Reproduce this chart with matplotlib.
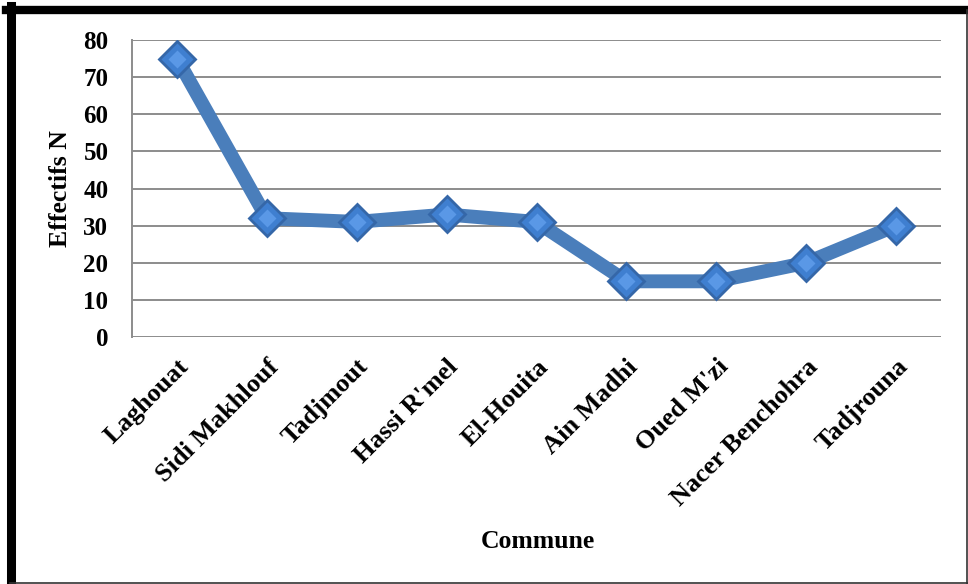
import matplotlib
matplotlib.use("Agg")
import matplotlib.pyplot as plt
from matplotlib.lines import Line2D
from matplotlib.transforms import ScaledTranslation

communes = ["Laghouat", "Sidi Makhlouf", "Tadjmout", "Hassi R'mel", "El-Houita",
            "Ain Madhi", "Oued M'zi", "Nacer Benchohra", "Tadjrouna"]
effectifs = [75, 32, 31, 33, 31, 15, 15, 20, 30]
yticks = [0, 10, 20, 30, 40, 50, 60, 70, 80]

plt.rcParams['font.family'] = ['Liberation Serif', 'DejaVu Serif']
plt.rcParams['font.weight'] = 'bold'

W, H = 968, 584
fig = plt.figure(figsize=(W / 100, H / 100), dpi=100)
fig.patch.set_facecolor('white')

ax = fig.add_axes([132 / W, 1 - 337 / H, (941 - 132) / W, (337 - 40) / H])
x = list(range(len(communes)))

ax.plot(x, effectifs, color='#4a7ebb', lw=10, solid_joinstyle='round',
        solid_capstyle='round', zorder=3)
# diamond markers: dark rim, blue face, light centre
ax.plot(x, effectifs, ls='none', marker='D', ms=20, mfc='#3567a8',
        mec='none', zorder=4)
ax.plot(x, effectifs, ls='none', marker='D', ms=16, mfc='#3f7fd0',
        mec='none', zorder=5)
ax.plot(x, effectifs, ls='none', marker='D', ms=9, mfc='#5a98e6',
        mec='none', zorder=6)

ax.set_xlim(-0.5, len(communes) - 0.5)
ax.set_ylim(0, 80)
ax.set_yticks(yticks)
ax.set_yticklabels([str(v) for v in yticks], fontsize=18, fontweight='bold')
ax.set_xticks(x)
ax.set_xticklabels(communes, rotation=45, ha='right', rotation_mode='anchor',
                   fontsize=19, fontweight='bold')
shift = ScaledTranslation(5 / 100, 0, fig.dpi_scale_trans)
for lab in ax.get_xticklabels():
    lab.set_transform(lab.get_transform() + shift)
ax.tick_params(axis='both', length=0)
ax.tick_params(axis='y', pad=17)
ax.tick_params(axis='x', pad=13)

ax.grid(axis='y', color='#8c8c8c', lw=1.4)
ax.set_axisbelow(True)
for s in ['top', 'right', 'bottom']:
    ax.spines[s].set_visible(False)
ax.spines['left'].set_color('#8c8c8c')
ax.spines['left'].set_linewidth(1.4)

ax.set_ylabel('Effectifs N', fontsize=18.5, fontweight='bold')
ax.yaxis.set_label_coords(-0.074, 0.5)
fig.text(538 / W, 1 - 541 / H, 'Commune', ha='center', va='center',
         fontsize=18.5, fontweight='bold')

# frame around the whole chart
def fx(px):
    return px / W

def fy(py):
    return 1 - py / H

fig.add_artist(Line2D([fx(6), fx(W)], [fy(10), fy(10)], color='black', lw=6))
fig.add_artist(Line2D([fx(10.5), fx(10.5)], [fy(6), fy(H)], color='black', lw=6.5))
fig.add_artist(Line2D([fx(966.5), fx(966.5)], [fy(10), fy(H)], color='#333333', lw=1.2))
fig.add_artist(Line2D([fx(10), fx(W)], [fy(582.5), fy(582.5)], color='#333333', lw=1.2))

fig.savefig('out.png', dpi=100)
